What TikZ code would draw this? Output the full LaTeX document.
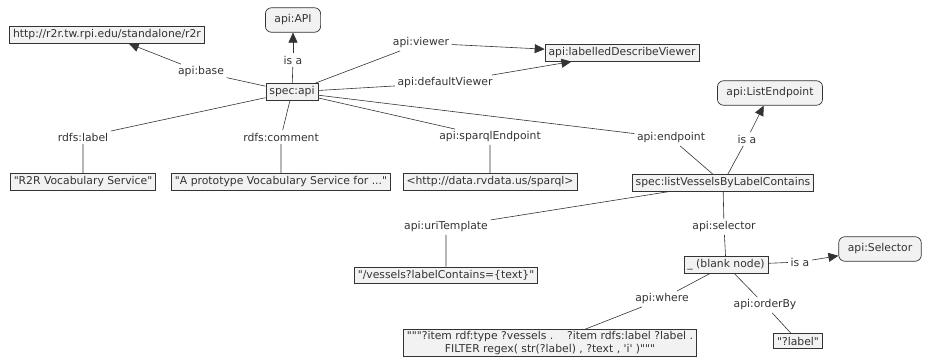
\documentclass[tikz,border=0pt]{standalone}
\usepackage{fontspec}
\setmainfont{DejaVu Sans}[Ligatures=TeXOff]
\usetikzlibrary{arrows.meta}
\definecolor{ink}{HTML}{333333}
\definecolor{boxfill}{HTML}{F2F2F2}

\begin{document}
\begin{tikzpicture}[x=1pt, y=-1pt,
    font=\fontsize{10.8}{12.5}\selectfont, text=ink,
    concept/.style={draw=ink, fill=boxfill, line width=0.7pt, inner xsep=3.5pt, inner ysep=3pt},
    klass/.style={concept, rounded corners=6pt, inner xsep=9pt, inner ysep=7pt},
    rel/.style={inner sep=2.5pt},
    link/.style={draw=ink, line width=0.6pt},
    isarrow/.style={link, -{Triangle[length=10pt, width=9pt]}}]
  \useasboundingbox (0, 0) rectangle (925, 360);
  % concepts
  \node[concept] (http) at (107, 35) {http://r2r.tw.rpi.edu/standalone/r2r};
  \node[klass] (apicls) at (293, 20) {api:API};
  \node[concept] (ldv) at (622, 53) {api:labelledDescribeViewer};
  \node[concept] (specapi) at (292, 92) {spec:api};
  \node[klass] (listep) at (770, 93) {api:ListEndpoint};
  \node[concept] (r2r) at (83, 182) {"R2R Vocabulary Service"};
  \node[concept] (proto) at (281, 182) {"A prototype Vocabulary Service for ..."};
  \node[concept] (sparql) at (490, 182) {<http://data.rvdata.us/sparql>};
  \node[concept] (listv) at (723, 183) {spec:listVesselsByLabelContains};
  \node[concept] (vessels) at (446, 275) {"/vessels?labelContains=\{text\}"};
  \node[concept] (blank) at (726, 265) {\_ (blank node)};
  \node[klass] (selcls) at (880, 249) {api:Selector};
  \node[concept, align=center, inner ysep=2pt] (query) at (550, 343)
    {"""?item rdf:type ?vessels .\ \ \ \ ?item rdfs:label ?label .\\
     FILTER regex( str(?label) , ?text , 'i' )"""};
  \node[concept] (qlabel) at (798, 341) {"?label"};
  % linking phrases
  \node[rel] (base) at (201, 72) {api:base};
  \node[rel] (isaA) at (293, 60) {is a};
  \node[rel] (viewer) at (421, 43) {api:viewer};
  \node[rel] (defviewer) at (445, 83) {api:defaultViewer};
  \node[rel] (rdfslabel) at (83, 137) {rdfs:label};
  \node[rel] (comment) at (281, 137) {rdfs:comment};
  \node[rel] (sparqlep) at (490, 137) {api:sparqlEndpoint};
  \node[rel] (endpoint) at (671, 138) {api:endpoint};
  \node[rel] (isaL) at (747, 139) {is a};
  \node[rel] (uritpl) at (446, 227) {api:uriTemplate};
  \node[rel] (selector) at (724, 227) {api:selector};
  \node[rel] (isaS) at (800, 262) {is a};
  \node[rel] (where) at (662, 299) {api:where};
  \node[rel] (orderby) at (765, 305) {api:orderBy};
  % connectors
  \draw[link] (specapi) -- (base);
  \draw[isarrow] (base) -- (http);
  \draw[link] (specapi) -- (isaA);
  \draw[isarrow] (isaA) -- (apicls);
  \draw[link] (specapi) -- (viewer);
  \draw[isarrow] (viewer) -- (ldv);
  \draw[link] (specapi) -- (defviewer);
  \draw[isarrow] (defviewer) -- (ldv);
  \draw[link] (specapi) -- (rdfslabel) -- (r2r);
  \draw[link] (specapi) -- (comment) -- (proto);
  \draw[link] (specapi) -- (sparqlep) -- (sparql);
  \draw[link] (specapi) -- (endpoint) -- (listv);
  \draw[link] (listv) -- (isaL);
  \draw[isarrow] (isaL) -- (listep);
  \draw[link] (listv) -- (uritpl) -- (vessels);
  \draw[link] (listv) -- (selector) -- (blank);
  \draw[link] (blank) -- (isaS);
  \draw[isarrow] (isaS) -- (selcls);
  \draw[link] (blank) -- (where) -- (query);
  \draw[link] (blank) -- (orderby) -- (qlabel);
\end{tikzpicture}
\end{document}
